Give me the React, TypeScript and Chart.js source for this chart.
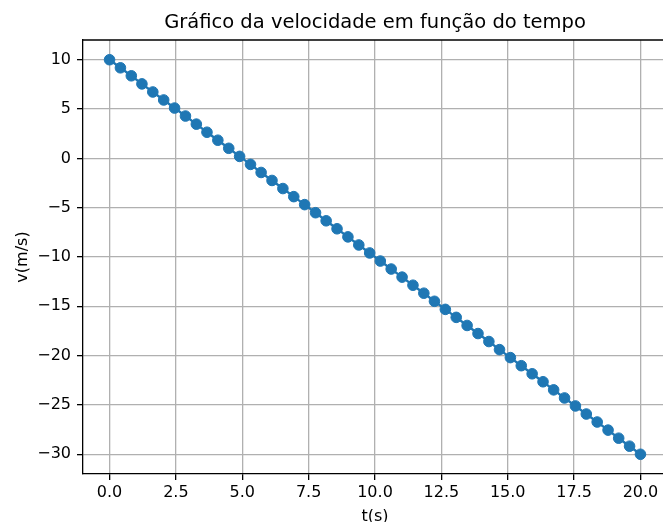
import React, { useEffect, useRef } from "react";
import { Chart, registerables } from "chart.js";

Chart.register(...registerables);

const titleText = "Gráfico da velocidade em função do tempo";
const xLabel = "t(s)";
const yLabel = "v(m/s)";

const tValues = [
  0, 0.41, 0.82, 1.22, 1.63, 2.04, 2.45, 2.86, 3.27, 3.67, 4.08, 4.49, 4.9, 5.31,
  5.71, 6.12, 6.53, 6.94, 7.35, 7.76, 8.16, 8.57, 8.98, 9.39, 9.8, 10.2, 10.61,
  11.02, 11.43, 11.84, 12.24, 12.65, 13.06, 13.47, 13.88, 14.29, 14.69, 15.1,
  15.51, 15.92, 16.33, 16.73, 17.14, 17.55, 17.96, 18.37, 18.78, 19.18, 19.59, 20,
];

const vValues = [
  10, 9.18, 8.37, 7.55, 6.73, 5.92, 5.1, 4.29, 3.47, 2.65, 1.84, 1.02, 0.2, -0.61,
  -1.43, -2.24, -3.06, -3.88, -4.69, -5.51, -6.33, -7.14, -7.96, -8.78, -9.59,
  -10.41, -11.22, -12.04, -12.86, -13.67, -14.49, -15.31, -16.12, -16.94, -17.76,
  -18.57, -19.39, -20.2, -21.02, -21.84, -22.65, -23.47, -24.29, -25.1, -25.92,
  -26.73, -27.55, -28.37, -29.18, -30,
];

const xTickValues = [0, 2.5, 5, 7.5, 10, 12.5, 15, 17.5, 20];
const yTickValues = [-30, -25, -20, -15, -10, -5, 0, 5, 10];

const FONT = "'DejaVu Sans', sans-serif";
const BLUE = "#1f77b4";

const framePlugin = {
  id: "frame",
  afterDatasetsDraw(chart: any) {
    const { ctx, chartArea } = chart;
    ctx.save();
    ctx.strokeStyle = "#000";
    ctx.lineWidth = 1.3;
    ctx.beginPath();
    ctx.moveTo(chartArea.left, chartArea.top);
    ctx.lineTo(chartArea.right, chartArea.top);
    ctx.lineTo(chartArea.right, chartArea.bottom);
    ctx.stroke();
    ctx.restore();
  },
};

export default function App() {
  const ref = useRef<HTMLCanvasElement | null>(null);

  useEffect(() => {
    if (!ref.current) return;
    const points = tValues.map((t, i) => ({ x: t, y: vValues[i] }));
    const chart = new Chart(ref.current, {
      type: "line",
      data: {
        datasets: [
          {
            data: points,
            borderColor: BLUE,
            backgroundColor: BLUE,
            borderWidth: 2.4,
            pointRadius: 5.3,
            pointBorderWidth: 1,
            pointBackgroundColor: BLUE,
            pointBorderColor: BLUE,
            tension: 0,
          },
        ],
      },
      options: {
        animation: false,
        responsive: false,
        devicePixelRatio: 1,
        layout: { padding: { left: 0, right: 13, top: 0, bottom: 0 } },
        plugins: {
          legend: { display: false },
          tooltip: { enabled: false },
          title: {
            display: true,
            text: titleText,
            fullSize: false,
            color: "#000",
            font: { family: FONT, size: 19.5, weight: "normal", lineHeight: 1.2 },
            padding: { top: 11, bottom: 5.6 },
          },
        },
        scales: {
          x: {
            type: "linear",
            min: -1,
            max: 21,
            afterBuildTicks: (scale: any) => {
              scale.ticks = xTickValues.map((v) => ({ value: v }));
            },
            afterFit: (scale: any) => {
              scale.height = 56;
            },
            ticks: {
              color: "#000",
              font: { family: FONT, size: 16, lineHeight: 1.2 },
              padding: 3,
              maxRotation: 0,
              autoSkip: false,
              callback: (v: any) => Number(v).toFixed(1),
            },
            grid: {
              color: "#b0b0b0",
              lineWidth: 1.3,
              tickColor: "#000",
              tickLength: 6,
              tickWidth: 1.3,
            },
            border: { color: "#000", width: 1.3 },
            title: {
              display: true,
              text: xLabel,
              color: "#000",
              font: { family: FONT, size: 16, lineHeight: 1.2 },
              padding: { top: 0, bottom: 3.7 },
            },
          },
          y: {
            type: "linear",
            min: -32,
            max: 12,
            afterBuildTicks: (scale: any) => {
              scale.ticks = yTickValues.map((v) => ({ value: v }));
            },
            afterFit: (scale: any) => {
              scale.width = 83;
            },
            ticks: {
              color: "#000",
              font: { family: FONT, size: 16, lineHeight: 1.2 },
              padding: 6,
              autoSkip: false,
              callback: (v: any) => {
                const n = Number(v);
                return n < 0 ? "\u2212" + Math.abs(n) : String(n);
              },
            },
            grid: {
              color: "#b0b0b0",
              lineWidth: 1.3,
              tickColor: "#000",
              tickLength: 6,
              tickWidth: 1.3,
            },
            border: { color: "#000", width: 1.3 },
            title: {
              display: true,
              text: yLabel,
              color: "#000",
              font: { family: FONT, size: 16, lineHeight: 1.2 },
              padding: { top: 13, bottom: 0 },
            },
          },
        },
      },
      plugins: [framePlugin],
    });
    return () => chart.destroy();
  }, []);

  return (
    <div
      style={{
        position: "fixed",
        left: 0,
        top: 0,
        width: 663,
        height: 522,
        overflow: "hidden",
        background: "#fff",
      }}
    >
      <canvas
        ref={ref}
        width={680}
        height={530}
        style={{ display: "block", width: 680, height: 530 }}
      />
    </div>
  );
}
